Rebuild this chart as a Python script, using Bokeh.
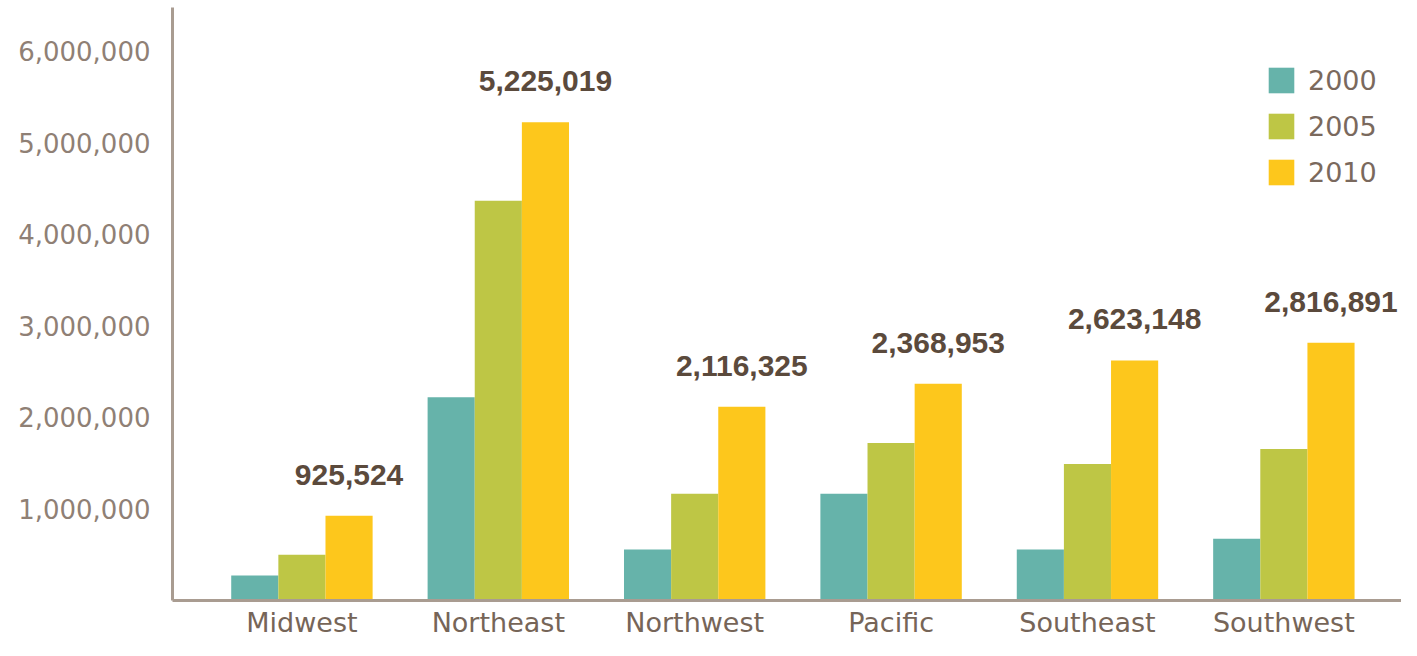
from bokeh.plotting import figure
from bokeh.models import (ColumnDataSource, Range1d, FixedTicker,
                          NumeralTickFormatter, Legend, LegendItem)
from bokeh.transform import dodge
from bokeh.core.properties import value
from bokeh.embed import file_html
from bokeh.resources import INLINE

# ---- data ----
regions = ["Midwest", "Northeast", "Northwest", "Pacific", "Southeast", "Southwest"]
years = ["2000", "2005", "2010"]
v2000 = [272000, 2222000, 556000, 1166000, 556000, 675000]
v2005 = [501000, 4368000, 1166000, 1721000, 1492000, 1656000]
v2010 = [925524, 5225019, 2116325, 2368953, 2623148, 2816891]
y_ticks = [1000000, 2000000, 3000000, 4000000, 5000000, 6000000]

colors = ["#66b3aa", "#bec645", "#fdc71c"]

idx = list(range(len(regions)))
bw = 0.24
src = ColumnDataSource(dict(
    pos=idx,
    v2000=v2000,
    v2005=v2005,
    v2010=v2010,
    label=["{:,}".format(v) for v in v2010],
))

p = figure(
    width=1401, height=640,
    x_range=Range1d(-0.659, 5.599),
    y_range=Range1d(0, 6480000),
    output_backend="svg", toolbar_location=None,
    min_border_left=172, min_border_right=0, min_border_top=7, min_border_bottom=38,
)
p.outline_line_color = None
p.xgrid.visible = False
p.ygrid.visible = False
p.background_fill_color = "white"
p.border_fill_color = "white"

renderers = []
for k, (col, c) in enumerate(zip(["v2000", "v2005", "v2010"], colors)):
    off = (k - 1) * bw
    r = p.vbar(x=dodge("pos", off), top=col, width=bw, source=src,
               fill_color=c, line_color=None)
    renderers.append(r)

p.text(x=dodge("pos", bw), y="v2010", text="label", source=src,
       text_align="center", text_baseline="middle", y_offset=-41,
       text_font=value("Liberation Sans"), text_font_style="bold",
       text_font_size="30px", text_color="#5b4a3c")

legend = Legend(
    items=[LegendItem(label=y, renderers=[r]) for y, r in zip(years, renderers)],
    location=(1093, 412),
    border_line_color=None, background_fill_alpha=0,
    padding=0, margin=0, glyph_width=32, glyph_height=32,
    label_standoff=11, spacing=14, label_height=32,
    label_text_font="DejaVu Sans", label_text_font_size="27px",
    label_text_color="#7a695d",
)
p.add_layout(legend)

axis_col = "#a99c91"
for ax in (p.xaxis[0], p.yaxis[0]):
    ax.axis_line_color = axis_col
    ax.axis_line_width = 3
    ax.major_tick_line_color = None
    ax.minor_tick_line_color = None
    ax.major_tick_in = 0
    ax.major_tick_out = 0
    ax.minor_tick_in = 0
    ax.minor_tick_out = 0

p.yaxis.ticker = FixedTicker(ticks=y_ticks)
p.yaxis.formatter = NumeralTickFormatter(format="0,0")
p.yaxis.major_label_text_font = "DejaVu Sans"
p.yaxis.major_label_text_font_size = "26px"
p.yaxis.major_label_text_color = "#8f8075"
p.yaxis.major_label_standoff = 22

p.xaxis.ticker = FixedTicker(ticks=idx)
p.xaxis.major_label_overrides = {i: name for i, name in zip(idx, regions)}
p.xaxis.major_label_text_font = "DejaVu Sans"
p.xaxis.major_label_text_font_size = "27px"
p.xaxis.major_label_text_color = "#766558"
p.xaxis.major_label_standoff = 6

open("out.html", "w").write(file_html(p, INLINE))
